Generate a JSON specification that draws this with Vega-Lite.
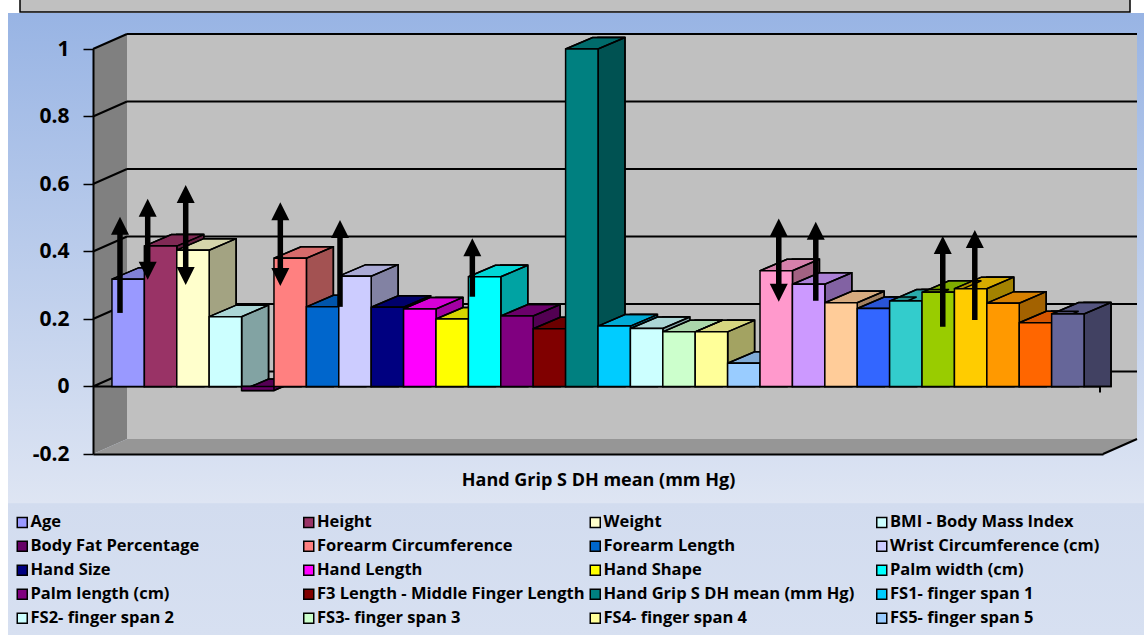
{
  "$schema": "https://vega.github.io/schema/vega-lite/v6.json",
  "width": 1010,
  "height": 405,
  "autosize": {"type": "none"},
  "padding": {"left": 93, "top": 49, "right": 41, "bottom": 181},
  "background": "white",
  "datasets": {
    "bars": [
      {"series": "Age", "value": 0.318},
      {"series": "Height", "value": 0.416},
      {"series": "Weight", "value": 0.404},
      {"series": "BMI - Body Mass Index", "value": 0.207},
      {"series": "Body Fat Percentage", "value": -0.012},
      {"series": "Forearm Circumference", "value": 0.38},
      {"series": "Forearm Length", "value": 0.236},
      {"series": "Wrist Circumference (cm)", "value": 0.327},
      {"series": "Hand Size", "value": 0.235},
      {"series": "Hand Length", "value": 0.23},
      {"series": "Hand Shape", "value": 0.2},
      {"series": "Palm width (cm)", "value": 0.325},
      {"series": "Palm length (cm)", "value": 0.209},
      {"series": "F3 Length - Middle Finger Length", "value": 0.171},
      {"series": "Hand Grip S DH mean (mm Hg)", "value": 1.0},
      {"series": "FS1- finger span 1", "value": 0.179},
      {"series": "FS2- finger span 2", "value": 0.172},
      {"series": "FS3- finger span 3", "value": 0.162},
      {"series": "FS4- finger span 4", "value": 0.162},
      {"series": "FS5- finger span 5", "value": 0.069},
      {"series": "Series 21", "value": 0.343},
      {"series": "Series 22", "value": 0.303},
      {"series": "Series 23", "value": 0.248},
      {"series": "Series 24", "value": 0.231},
      {"series": "Series 25", "value": 0.253},
      {"series": "Series 26", "value": 0.279},
      {"series": "Series 27", "value": 0.29},
      {"series": "Series 28", "value": 0.247},
      {"series": "Series 29", "value": 0.189},
      {"series": "Series 30", "value": 0.215}
    ],
    "arrows": [
      {"pos": 0.248, "hi": 0.503, "lo": 0.218, "both": false},
      {"pos": 1.103, "hi": 0.556, "lo": 0.316, "both": true},
      {"pos": 2.276, "hi": 0.597, "lo": 0.301, "both": true},
      {"pos": 5.196, "hi": 0.546, "lo": 0.298, "both": true},
      {"pos": 7.038, "hi": 0.493, "lo": 0.236, "both": false},
      {"pos": 11.122, "hi": 0.439, "lo": 0.266, "both": false},
      {"pos": 20.579, "hi": 0.498, "lo": 0.251, "both": true},
      {"pos": 21.721, "hi": 0.488, "lo": 0.254, "both": false},
      {"pos": 25.64, "hi": 0.446, "lo": 0.177, "both": false},
      {"pos": 26.628, "hi": 0.464, "lo": 0.197, "both": false}
    ]
  },
  "resolve": {"scale": {"x": "independent"}},
  "layer": [
    {
      "layer": [
        {
          "data": {"values": [{}]},
          "mark": {"type": "point", "shape": "M-120.15,-373.5L1015.85,-373.5L1015.85,248.5L-120.15,248.5Z", "size": 4, "filled": true, "opacity": 1, "strokeWidth": 0,
            "fill": {"gradient": "linear", "x1": 0, "y1": 0, "x2": 0, "y2": 1, "stops": [
              {"offset": 0, "color": "#98b4e4"},
              {"offset": 0.787, "color": "#dee5f3"},
              {"offset": 0.789, "color": "#d2dcef"},
              {"offset": 1, "color": "#d7e0f1"}]}},
          "encoding": {
            "x": {"datum": "Age", "type": "nominal", "scale": {"domain": ["Age", "Height", "Weight", "BMI - Body Mass Index", "Body Fat Percentage", "Forearm Circumference", "Forearm Length", "Wrist Circumference (cm)", "Hand Size", "Hand Length", "Hand Shape", "Palm width (cm)", "Palm length (cm)", "F3 Length - Middle Finger Length", "Hand Grip S DH mean (mm Hg)", "FS1- finger span 1", "FS2- finger span 2", "FS3- finger span 3", "FS4- finger span 4", "FS5- finger span 5", "Series 21", "Series 22", "Series 23", "Series 24", "Series 25", "Series 26", "Series 27", "Series 28", "Series 29", "Series 30"], "paddingInner": 0, "paddingOuter": 0.585}, "axis": {"zindex": 1, "labels": false, "ticks": false, "domainColor": "black", "domainWidth": 2}, "title": "Hand Grip S DH mean (mm Hg)"},
            "y": {"datum": 0, "type": "quantitative", "scale": {"domain": [-0.2, 1], "nice": false, "zero": false}, "axis": {"zindex": 1, "values": [-0.2, 0, 0.2, 0.4, 0.6, 0.8, 1], "labelExpr": "'' + datum.value"}, "title": null}
          }
        },
        {
          "data": {"values": [{}]},
          "mark": {"type": "point", "shape": "M-108.15,-388.5L1001.85,-388.5L1001.85,-374.5L-108.15,-374.5Z", "size": 4, "filled": true, "opacity": 1, "fill": "#c0c0c0", "stroke": "black", "strokeWidth": 1.5},
          "encoding": {
            "x": {"datum": "Age", "type": "nominal"},
            "y": {"datum": 0, "type": "quantitative", "title": null}
          }
        },
        {
          "data": {"values": [{}]},
          "mark": {"type": "point", "shape": "M-1.15,-352.5L1008.85,-352.5L1008.85,52.5L-1.15,52.5Z", "size": 4, "filled": true, "opacity": 1, "fill": "#c0c0c0", "strokeWidth": 0},
          "encoding": {
            "x": {"datum": "Age", "type": "nominal"},
            "y": {"datum": 0, "type": "quantitative", "title": null}
          }
        },
        {
          "data": {"values": [{}]},
          "mark": {"type": "point", "shape": "M-35.15,-337.5L-1.15,-352.5L-1.15,52.5L-35.15,67.5Z", "size": 4, "filled": true, "opacity": 1, "fill": "#808080", "strokeWidth": 0},
          "encoding": {
            "x": {"datum": "Age", "type": "nominal"},
            "y": {"datum": 0, "type": "quantitative", "title": null}
          }
        },
        {
          "data": {"values": [{}]},
          "mark": {"type": "point", "shape": "M-35.15,67.5L974.85,67.5L1008.85,52.5L-1.15,52.5Z", "size": 4, "filled": true, "opacity": 1, "fill": "#969696", "strokeWidth": 0},
          "encoding": {
            "x": {"datum": "Age", "type": "nominal"},
            "y": {"datum": 0, "type": "quantitative", "title": null}
          }
        },
        {
          "data": {"values": [{}]},
          "mark": {"type": "point", "shape": "M-1.15,-15L1008.85,-15M-1.15,-82.5L1008.85,-82.5M-1.15,-150L1008.85,-150M-1.15,-217.5L1008.85,-217.5M-1.15,-285L1008.85,-285M-1.15,-352.5L1008.85,-352.5M-35.15,0L-1.15,-15M-35.15,-67.5L-1.15,-82.5M-35.15,-135L-1.15,-150M-35.15,-202.5L-1.15,-217.5M-35.15,-270L-1.15,-285M-35.15,-337.5L-1.15,-352.5M974.85,67.5L1008.85,52.5M-35.15,0L971.85,0M971.85,0L971.85,6", "size": 4, "filled": false, "opacity": 1, "stroke": "black", "strokeWidth": 2},
          "encoding": {
            "x": {"datum": "Age", "type": "nominal"},
            "y": {"datum": 0, "type": "quantitative", "title": null}
          }
        },
        {
          "data": {"name": "bars"},
          "encoding": {
            "x": {"field": "series", "type": "nominal", "sort": null, "axis": {"zindex": 1, "labels": false, "ticks": false, "domainColor": "black", "domainWidth": 2}, "title": "Hand Grip S DH mean (mm Hg)"},
            "y": {"field": "value", "type": "quantitative", "stack": null, "axis": {"zindex": 1, "values": [-0.2, 0, 0.2, 0.4, 0.6, 0.8, 1], "labelExpr": "'' + datum.value"}, "title": null},
            "color": {
              "field": "series", "type": "nominal",
              "scale": {
                "domain": ["Age", "Height", "Weight", "BMI - Body Mass Index", "Body Fat Percentage", "Forearm Circumference", "Forearm Length", "Wrist Circumference (cm)", "Hand Size", "Hand Length", "Hand Shape", "Palm width (cm)", "Palm length (cm)", "F3 Length - Middle Finger Length", "Hand Grip S DH mean (mm Hg)", "FS1- finger span 1", "FS2- finger span 2", "FS3- finger span 3", "FS4- finger span 4", "FS5- finger span 5", "Series 21", "Series 22", "Series 23", "Series 24", "Series 25", "Series 26", "Series 27", "Series 28", "Series 29", "Series 30"],
                "range": ["#9999FF", "#993366", "#FFFFCC", "#CCFFFF", "#660066", "#FF8080", "#0066CC", "#CCCCFF", "#000080", "#FF00FF", "#FFFF00", "#00FFFF", "#800080", "#800000", "#008080", "#00CCFF", "#CCFFFF", "#CCFFCC", "#FFFF99", "#99CCFF", "#FF99CC", "#CC99FF", "#FFCC99", "#3366FF", "#33CCCC", "#99CC00", "#FFCC00", "#FF9900", "#FF6600", "#666699"]
              },
              "legend": {
                "title": null,
                "symbolType": "square",
                "values": ["Age", "Body Fat Percentage", "Hand Size", "Palm length (cm)", "FS2- finger span 2", "Height", "Forearm Circumference", "Hand Length", "F3 Length - Middle Finger Length", "FS3- finger span 3", "Weight", "Forearm Length", "Hand Shape", "Hand Grip S DH mean (mm Hg)", "FS4- finger span 4", "BMI - Body Mass Index", "Wrist Circumference (cm)", "Palm width (cm)", "FS1- finger span 1", "FS5- finger span 5"]
              }
            }
          },
          "layer": [
            {"mark": {"type": "bar", "width": 27, "xOffset": 29.7, "yOffset": -11.5, "stroke": "black", "strokeWidth": 1.5}},
            {"mark": {"type": "bar", "width": 27, "xOffset": 29.7, "yOffset": -11.5, "stroke": "black", "strokeWidth": 1.5, "fillOpacity": 0.36}, "encoding": {"color": {"value": "black"}}},
            {"mark": {"type": "point", "shape": "M-16.2,0L16.2,0L43.2,-11.5L10.8,-11.5Z", "size": 4, "filled": true, "opacity": 1, "stroke": "black", "strokeWidth": 1.5}},
            {"mark": {"type": "point", "shape": "M-16.2,0L16.2,0L43.2,-11.5L10.8,-11.5Z", "size": 4, "filled": true, "opacity": 1, "fillOpacity": 0.16, "stroke": "black", "strokeWidth": 1.5}, "encoding": {"color": {"value": "black"}}},
            {"mark": {"type": "bar", "stroke": "black", "strokeWidth": 1.5}}
          ]
        }
      ]
    },
    {
      "data": {"name": "arrows"},
      "encoding": {
        "x": {"field": "pos", "type": "quantitative", "scale": {"domain": [-0.585, 30.585], "nice": false, "zero": false}, "axis": null}
      },
      "layer": [
        {
          "transform": [{"filter": "!datum.both"}],
          "mark": {"type": "rule", "strokeWidth": 5.5, "color": "black", "yOffset": 12},
          "encoding": {"y": {"field": "hi", "type": "quantitative", "title": null}, "y2": {"field": "lo"}}
        },
        {
          "transform": [{"filter": "datum.both"}],
          "mark": {"type": "rule", "strokeWidth": 5.5, "color": "black", "yOffset": 12, "y2Offset": -12},
          "encoding": {"y": {"field": "hi", "type": "quantitative", "title": null}, "y2": {"field": "lo"}}
        },
        {
          "mark": {"type": "point", "shape": "M0,0L-9,18L9,18Z", "size": 4, "filled": true, "opacity": 1, "color": "black", "strokeWidth": 0},
          "encoding": {"y": {"field": "hi", "type": "quantitative", "title": null}}
        },
        {
          "transform": [{"filter": "datum.both"}],
          "mark": {"type": "point", "shape": "M0,0L-9,-18L9,-18Z", "size": 4, "filled": true, "opacity": 1, "color": "black", "strokeWidth": 0},
          "encoding": {"y": {"field": "lo", "type": "quantitative", "title": null}}
        }
      ]
    }
  ],
  "config": {
    "view": {"stroke": null},
    "font": "Open Sans",
    "axisY": {"grid": false, "zindex": 1, "domainColor": "black", "domainWidth": 2, "tickColor": "black", "tickWidth": 1.5, "tickSize": 10, "labelPadding": 14, "labelFont": "Open Sans", "labelFontWeight": "bold", "labelFontSize": 21, "labelColor": "black"},
    "axisX": {"grid": false, "zindex": 1, "domainColor": "black", "domainWidth": 2, "ticks": false, "labels": false, "titleFont": "Open Sans", "titleFontWeight": "bold", "titleFontSize": 18, "titleColor": "black", "titlePadding": 17},
    "legend": {"orient": "none", "legendX": -79, "legendY": 465, "columns": 4, "gridAlign": "all", "columnPadding": 2.5, "rowPadding": 7, "symbolType": "square", "symbolSize": 100, "symbolStrokeColor": "black", "symbolStrokeWidth": 1.5, "symbolOpacity": 1, "labelFont": "Open Sans", "labelFontWeight": "bold", "labelFontSize": 16.5, "labelColor": "black", "labelOffset": 0, "labelLimit": 400, "padding": 0, "zindex": 1}
  }
}
